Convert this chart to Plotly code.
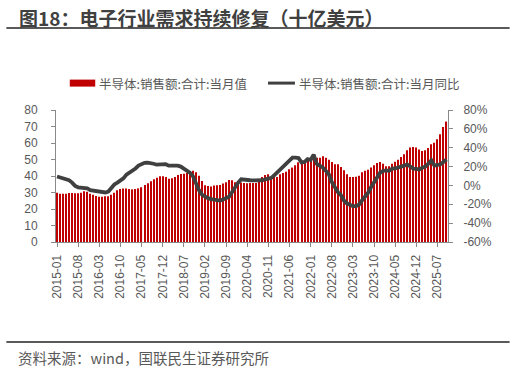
import plotly.graph_objects as go

# ---- data ----
months = [f"{y}-{m:02d}" for y in range(2015, 2026) for m in range(1, 13)][:130]

sales = [29.9, 29.3, 29.3, 29.3, 29.7, 29.7, 29.5, 29.5, 29.9, 30.7,
         30.5, 29.3, 28.7, 27.9, 27.5, 27.5, 27.7, 27.7, 28.7, 29.9,
         31.3, 32.1, 32.5, 32.5, 32.1, 31.9, 32.1, 32.5, 33.2, 34.5,
         35.6, 36.8, 38.0, 39.0, 39.8, 39.8, 39.4, 38.4, 38.6, 39.4,
         40.6, 41.2, 41.4, 41.8, 42.6, 43.2, 42.2, 40.2, 37.0, 34.4,
         34.0, 33.6, 34.2, 34.4, 34.6, 35.4, 36.2, 37.6, 37.4, 36.2,
         36.0, 36.0, 35.8, 35.6, 35.8, 35.8, 35.8, 36.6, 39.4, 40.6,
         41.0, 39.4, 39.8, 39.4, 41.0, 41.8, 42.6, 44.1, 45.1, 46.5,
         48.3, 47.5, 49.1, 49.9, 49.5, 51.1, 51.1, 51.1, 51.9, 51.1,
         49.9, 48.5, 47.1, 47.1, 45.5, 43.5, 41.0, 39.4, 39.4, 39.6,
         40.2, 42.2, 43.2, 43.8, 45.1, 46.5, 47.9, 48.5, 47.5, 45.9,
         45.9, 47.5, 48.7, 49.9, 51.5, 53.2, 55.6, 57.2, 57.6, 57.2,
         56.0, 55.2, 55.6, 57.0, 59.2, 60.2, 62.2, 65.3, 69.7, 73.0]

yoy = [9.5, 8.5, 7, 6.5, 5.5, 3, -0.5, -2, -2.5, -3,
       -3, -5, -5.5, -6, -6, -6, -7.5, -6.5, -3, 1,
       3, 5, 7.5, 11.5, 13.5, 16, 18, 21, 23, 24,
       24.2, 24, 23, 22, 22, 23, 22.5, 21, 20.5, 21,
       21, 20, 17.8, 16, 13.6, 10, 2, -5, -9.8, -12,
       -13.5, -14.5, -15, -16, -16, -15, -14, -12, -7, -1,
       3, 6.5, 6.5, 6.5, 5.5, 5.4, 5.4, 5.4, 5.5, 6.5,
       7, 8, 11, 14, 17, 20, 23, 27, 29.5, 29.5,
       29, 24.5, 25, 28, 27, 32.7, 23, 21, 19, 15.5,
       12, 3.6, -2, -7, -10, -16, -19, -21, -22, -22,
       -20.5, -16, -12, -8, -2, 3, 9, 13.5, 15.3, 16,
       15.5, 17.8, 18, 18.8, 19.5, 21, 22.4, 20.5, 17.8, 17.5,
       17, 18.8, 20, 23, 26.6, 21, 21.5, 22.4, 24.8, 27.4]

tick_labels = months[::7]
left_ticks = [0, 10, 20, 30, 40, 50, 60, 70, 80]
right_ticks = [-60, -40, -20, 0, 20, 40, 60, 80]

title_text = "图18：电子行业需求持续修复（十亿美元）"
bar_name = "半导体:销售额:合计:当月值"
line_name = "半导体:销售额:合计:当月同比"
source_text = "资料来源：wind，国联民生证券研究所"

FONT = "Liberation Sans, Noto Sans CJK SC, sans-serif"
CJK = "Noto Sans CJK SC, sans-serif"
GRAY = "#595959"
AXIS = "#898989"

fig = go.Figure()
fig.add_trace(go.Bar(x=months, y=sales, name=bar_name, marker_color="#C00000",
                     marker_line_width=0, yaxis="y"))
fig.add_trace(go.Scatter(x=months, y=yoy, name=line_name, mode="lines",
                         line=dict(color="#404040", width=3.8), yaxis="y2"))

W, H = 516, 370
L, R, T, B = 55.7, 448.3, 109.7, 241.7

fig.update_layout(
    width=W, height=H,
    margin=dict(l=L, r=W - R, t=T, b=H - B, pad=0, autoexpand=False),
    paper_bgcolor="white", plot_bgcolor="white",
    showlegend=False,
    bargap=0.63,
    font=dict(family=FONT, color=GRAY, size=12),
    xaxis=dict(type="category", range=[-0.33, 129.5],
               tickmode="array", tickvals=tick_labels, ticktext=tick_labels,
               tickangle=-90, ticks="outside", ticklen=4, tickcolor=AXIS,
               showline=True, linecolor=AXIS, linewidth=1, showgrid=False,
               tickfont=dict(size=12, color=GRAY), ticklabelstandoff=3),
    yaxis=dict(range=[0, 80], tickvals=left_ticks, ticks="outside", ticklen=4,
               tickcolor=AXIS, showline=True, linecolor=AXIS, linewidth=1,
               showgrid=False, zeroline=False,
               tickfont=dict(size=12, color=GRAY), ticklabelstandoff=11),
    yaxis2=dict(range=[-60, 80], tickvals=right_ticks,
                ticktext=[f"{v}%" for v in right_ticks],
                overlaying="y", side="right", ticks="outside", ticklen=4,
                tickcolor=AXIS, showline=True, linecolor=AXIS, linewidth=1,
                showgrid=False, zeroline=False,
                tickfont=dict(size=12, color=GRAY), ticklabelstandoff=8),
)

# paper coordinates are relative to the plot area
def px(x):
    return (x - L) / (R - L)

def py(y):
    return (B - y) / (B - T)

shapes = [
    dict(type="line", xref="paper", yref="paper", x0=px(6), x1=px(510),
         y0=py(27.7), y1=py(27.7), line=dict(color="#595959", width=2)),
    dict(type="line", xref="paper", yref="paper", x0=px(6), x1=px(510),
         y0=py(341.7), y1=py(341.7), line=dict(color="#595959", width=2)),
    dict(type="rect", xref="paper", yref="paper", x0=px(69.5), x1=px(95),
         y0=py(86.3), y1=py(79.3), fillcolor="#C00000", line=dict(width=0)),
    dict(type="line", xref="paper", yref="paper", x0=px(268), x1=px(295),
         y0=py(82.8), y1=py(82.8), line=dict(color="#404040", width=3)),
]
annotations = [
    dict(text=title_text, xref="paper", yref="paper", x=px(17), y=py(16.7),
         xanchor="left", yanchor="middle", showarrow=False,
         font=dict(family=CJK, size=19, color="#404040", weight="bold")),
    dict(text=bar_name, xref="paper", yref="paper", x=px(97), y=py(82.8),
         xanchor="left", yanchor="middle", showarrow=False,
         font=dict(family=CJK, size=12.5, color=GRAY)),
    dict(text=line_name, xref="paper", yref="paper", x=px(297), y=py(82.8),
         xanchor="left", yanchor="middle", showarrow=False,
         font=dict(family=CJK, size=12.5, color=GRAY)),
    dict(text=source_text, xref="paper", yref="paper", x=px(16), y=py(357.3),
         xanchor="left", yanchor="middle", showarrow=False,
         font=dict(family=CJK, size=14.5, color=GRAY)),
]
fig.update_layout(shapes=shapes, annotations=annotations)

fig.write_html("out.html", config={"displayModeBar": False},
               post_script="document.body.style.margin='0';")
